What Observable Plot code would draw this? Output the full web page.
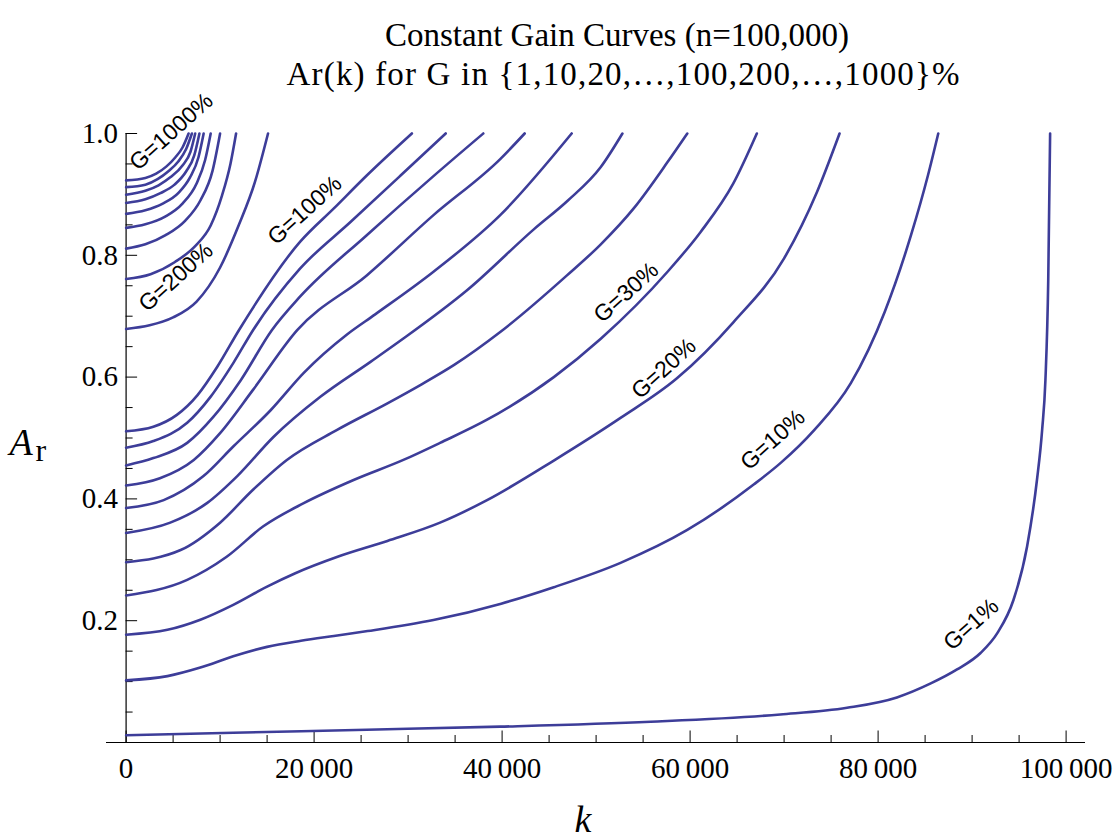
<!DOCTYPE html>
<html>
<head>
<meta charset="utf-8">
<script src="https://cdn.jsdelivr.net/npm/d3@7"></script>
<script src="https://cdn.jsdelivr.net/npm/@observablehq/plot@0.6"></script>
<style>
  body { margin: 0; background: #fff; }
  #chart { width: 1120px; height: 840px; }
</style>
</head>
<body>
<div id="chart"></div>
<script>
// Constant gain curves: A_r as a function of k, one curve per gain G.
// Each curve is a list of [k, A_r] points.
const G1 = [[0,0.012],[11400,0.016],[25600,0.021],[39800,0.026],[55800,0.034],[69600,0.046],[76700,0.057],[82000,0.074],[85600,0.097],[88400,0.12],[90900,0.147],[92700,0.18],[94400,0.234],[95850,0.322],[96900,0.431],[97450,0.513],[97800,0.595],[98100,0.759],[98300,1.0]];
const G10 = [[0,0.102],[4400,0.109],[7900,0.123],[11400,0.1415],[15000,0.157],[18600,0.167],[22100,0.175],[25700,0.183],[32700,0.201],[39900,0.228],[45500,0.255],[52600,0.295],[59700,0.349],[66800,0.424],[69700,0.46],[73200,0.513],[77100,0.59],[80700,0.707],[83500,0.833],[85300,0.931],[86400,1.0]];
const G20 = [[0,0.177],[4400,0.185],[7900,0.2016],[11400,0.226],[15000,0.256],[18000,0.278],[22500,0.305],[27800,0.331],[33400,0.361],[38400,0.398],[45500,0.463],[52600,0.533],[58600,0.598],[64600,0.69],[70000,0.795],[73500,0.904],[75900,1.0]];
const G30 = [[0,0.2415],[6500,0.267],[10700,0.305],[14600,0.355],[18900,0.393],[24200,0.431],[29500,0.464],[33400,0.492],[38400,0.53],[45500,0.60],[50500,0.663],[57600,0.773],[61100,0.838],[64600,0.918],[67100,1.0]];
const G40 = [[0,0.296],[5800,0.316],[10000,0.361],[13500,0.415],[17100,0.464],[22400,0.513],[27800,0.557],[31300,0.587],[34900,0.62],[39800,0.674],[46900,0.767],[50500,0.818],[54000,0.877],[57600,0.953],[59700,1.0]];
const G50 = [[0,0.344],[4700,0.361],[8600,0.393],[11800,0.437],[15700,0.502],[20700,0.568],[26000,0.625],[29200,0.66],[36300,0.743],[43400,0.843],[47000,0.89],[50500,0.945],[52800,1.0]];
const G60 = [[0,0.385],[4000,0.398],[8200,0.437],[11400,0.486],[15400,0.546],[18900,0.607],[23500,0.67],[26500,0.703],[32700,0.773],[39800,0.866],[47400,1.0]];
const G70 = [[0,0.422],[3600,0.434],[7200,0.464],[10000,0.508],[13500,0.579],[18200,0.677],[25600,0.767],[32700,0.866],[39800,0.958],[42400,1.0]];
const G80 = [[0,0.455],[2900,0.467],[6500,0.492],[9300,0.535],[12200,0.595],[15500,0.677],[18500,0.732],[25600,0.833],[32700,0.93],[38000,1.0]];
const G90 = [[0,0.484],[2900,0.495],[6500,0.525],[9000,0.568],[11400,0.623],[13500,0.677],[18500,0.778],[23900,0.855],[29200,0.931],[34000,1.0]];
const G100 = [[0,0.511],[2900,0.5185],[5400,0.538],[7600,0.5705],[9700,0.617],[12000,0.677],[18500,0.822],[22100,0.877],[25600,0.931],[30400,1.0]];
const G200 = [[0,0.679],[2500,0.685],[5000,0.698],[7500,0.724],[10000,0.78],[12000,0.85],[13700,0.92],[15100,1.0]];
const G300 = [[0,0.761],[2600,0.769],[5200,0.789],[7400,0.816],[9000,0.849],[10200,0.898],[11100,0.950],[11700,1.0]];
const G400 = [[0,0.811],[2050,0.818],[4200,0.833],[6300,0.857],[7900,0.89],[9200,0.939],[10000,1.0]];
const G500 = [[0,0.845],[2050,0.851],[4200,0.864],[6000,0.885],[7500,0.918],[8400,0.956],[9000,1.0]];
const G600 = [[0,0.868],[2050,0.874],[3900,0.885],[5600,0.903],[6800,0.928],[7700,0.961],[8250,1.0]];
const G700 = [[0,0.886],[2050,0.892],[3650,0.902],[5150,0.916],[6400,0.938],[7250,0.964],[7800,1.0]];
const G800 = [[0,0.8995],[2050,0.906],[3450,0.915],[4700,0.928],[6000,0.9475],[6850,0.97],[7350,1.0]];
const G900 = [[0,0.912],[2050,0.916],[3350,0.925],[4500,0.938],[5550,0.954],[6400,0.975],[7000,1.0]];
const G1000 = [[0,0.923],[2050,0.927],[3200,0.934],[4300,0.946],[5250,0.961],[6000,0.977],[6650,1.0]];

const gains = ["1%","10%","20%","30%","40%","50%","60%","70%","80%","90%","100%","200%","300%","400%","500%","600%","700%","800%","900%","1000%"];
const curves = [G1,G10,G20,G30,G40,G50,G60,G70,G80,G90,G100,G200,G300,G400,G500,G600,G700,G800,G900,G1000];

// Curve labels: text, position (k, A_r) and rotation
const labelText = ["G=1000%","G=200%","G=100%","G=30%","G=20%","G=10%","G=1%"];
const labelK = [4800, 5300, 19000, 53200, 57200, 68800, 89900];
const labelA = [1.003, 0.764, 0.874, 0.739, 0.614, 0.497, 0.194];
const labelAngle = [-42, -42, -42, -42, -42, -42, -42];

// Axis ticks
const xMajor = [0, 20000, 40000, 60000, 80000, 100000];
const xMinor = d3.range(5000, 100001, 5000).filter(v => v % 20000 !== 0);
const yMajor = [0.2, 0.4, 0.6, 0.8, 1.0];
const yMinor = d3.range(1, 20).map(i => i * 0.05).filter(v => Math.abs(v / 0.2 - Math.round(v / 0.2)) > 1e-6);

const titleLines = ["Constant Gain Curves (n=100,000)", "Ar(k) for G in {1,10,20,\u2026,100,200,\u2026,1000}%"];

const rows = curves.flatMap((pts, i) => pts.map(([k, a]) => ({gain: gains[i], k, a})));
const labels = labelText.map((t, i) => ({t, k: labelK[i], a: labelA[i], r: labelAngle[i]}));

const serif = "'Liberation Serif', 'Times New Roman', serif";
const sans = "'Liberation Sans', Arial, Helvetica, sans-serif";
const fmtX = d => d === 0 ? "0" : d3.format(",")(d).replace(/,/g, "\u2009");
const ink = "#000";

const chart = Plot.plot({
  width: 1120,
  height: 840,
  marginLeft: 106,
  marginRight: 35,
  marginTop: 133,
  marginBottom: 98,
  x: {domain: [-2085, 102064], axis: null},
  y: {domain: [0, 1], axis: null},
  marks: [
    // axis lines
    Plot.ruleY([0], {stroke: ink, strokeWidth: 1.2}),
    Plot.ruleX([0], {y1: 0, y2: 1, stroke: ink, strokeWidth: 1.2}),
    // x ticks (drawn inward, above the axis)
    Plot.ruleX(xMajor, {x: d => d, y1: 0, y2: 0, insetTop: -11.5, stroke: ink, strokeWidth: 1}),
    Plot.ruleX(xMinor, {x: d => d, y1: 0, y2: 0, insetTop: -7, stroke: ink, strokeWidth: 1}),
    // y ticks (drawn inward, right of the axis)
    Plot.ruleY(yMajor, {y: d => d, x1: 0, x2: 0, insetRight: -11.5, stroke: ink, strokeWidth: 1}),
    Plot.ruleY(yMinor, {y: d => d, x1: 0, x2: 0, insetRight: -7, stroke: ink, strokeWidth: 1}),
    // tick labels
    Plot.text(xMajor, {x: d => d, y: 0, text: fmtX, dy: 26, fontFamily: serif, fontSize: 29, fill: ink}),
    Plot.text(yMajor, {x: 0, y: d => d, text: d => d.toFixed(1), dx: -8, textAnchor: "end", fontFamily: serif, fontSize: 29, fill: ink}),
    // curves
    Plot.line(rows, {x: "k", y: "a", z: "gain", stroke: "#3d3d99", strokeWidth: 2.6, curve: "monotone-x"}),
    // curve labels
    Plot.text(labels, {x: "k", y: "a", text: "t", rotate: "r", fontFamily: sans, fontSize: 23, fill: ink}),
    // title
    Plot.text([titleLines[0]], {frameAnchor: "top", dx: 21, dy: -88, lineAnchor: "bottom", fontFamily: serif, fontSize: 33, fill: ink}),
    Plot.text([titleLines[1]], {frameAnchor: "top", dx: 27, dy: -49, lineAnchor: "bottom", fontFamily: serif, fontSize: 33, fill: ink}),
    // axis labels
    Plot.text(["k"], {frameAnchor: "bottom", dx: -13, dy: 89, lineAnchor: "bottom", fontFamily: serif, fontStyle: "italic", fontSize: 38, fill: ink}),
    Plot.text(["A"], {frameAnchor: "left", dx: -97, dy: 17, lineAnchor: "bottom", textAnchor: "start", fontFamily: serif, fontStyle: "italic", fontSize: 38, fill: ink}),
    Plot.text(["r"], {frameAnchor: "left", dx: -71, dy: 23, lineAnchor: "bottom", textAnchor: "start", fontFamily: serif, fontSize: 32, fill: ink})
  ]
});

// The second title line is set with wider spacing around its list of values
for (const t of chart.querySelectorAll("text")) {
  if (t.textContent === titleLines[1]) {
    t.setAttribute("textLength", 673);
    t.setAttribute("lengthAdjust", "spacing");
  }
}
document.getElementById("chart").appendChild(chart);
</script>
</body>
</html>
